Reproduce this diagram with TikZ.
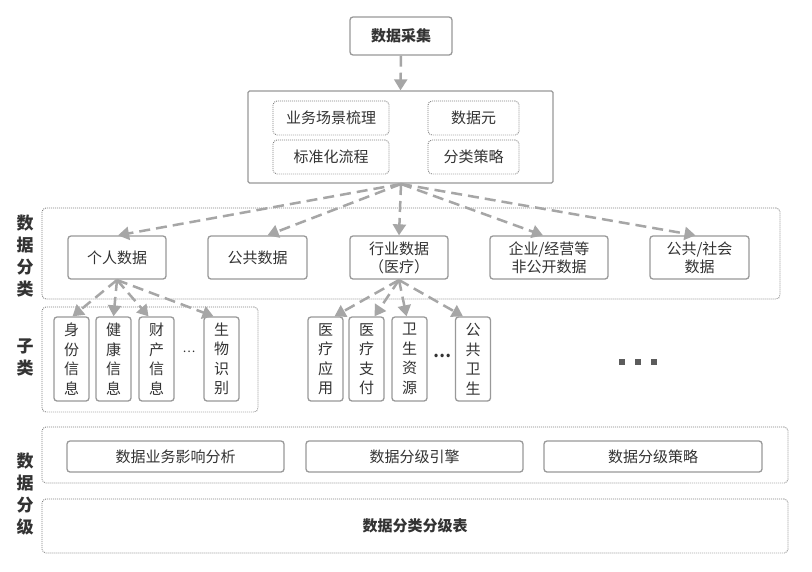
\documentclass[tikz,border=0pt]{standalone}
\usepackage{fontspec}
\setmainfont{Noto Sans CJK SC}
\usetikzlibrary{arrows.meta}
\definecolor{txt}{HTML}{333333}
\definecolor{bord}{HTML}{999999}
\definecolor{dotc}{HTML}{808080}
\definecolor{arr}{HTML}{A6A6A6}
\tikzset{
  box/.style={draw=bord, line width=1.3pt, rounded corners=3pt, fill=white, text=txt, font=\fontsize{15}{18}\selectfont, align=center, inner sep=0pt},
  dotbox/.style={draw=dotc, dash pattern=on 0.9pt off 1.1pt, line width=0.9pt, rounded corners=4pt, text=txt, inner sep=0pt},
  vbox/.style={box, minimum width=35pt, minimum height=84pt, font=\fontsize{15}{19.5}\selectfont},
  conn/.style={draw=arr, line width=2.5pt, dash pattern=on 11pt off 6pt, -{Triangle[length=11pt,width=13pt]}},
  lab/.style={text=txt, font=\fontsize{17}{22}\selectfont\bfseries, align=center, inner sep=0pt},
}
\begin{document}
\begin{tikzpicture}[x=1pt,y=-1pt]
\useasboundingbox (0,0) rectangle (812,571);
\fill[white] (0,0) rectangle (812,571);
% regions
\node[dotbox, minimum width=738pt, minimum height=91pt] (catreg) at (411,253.5) {};
\node[dotbox, minimum width=216pt, minimum height=105pt] (subreg) at (150,359.5) {};
\node[dotbox, minimum width=746pt, minimum height=56pt] (gradereg) at (415,455) {};
\node[dotbox, minimum width=746pt, minimum height=54pt, font=\fontsize{15}{18}\selectfont\bfseries] (table) at (415,526) {数据分类分级表};
% left labels
\node[lab] (l1) at (25,256) {数\\据\\分\\类};
\node[lab] (l2) at (25,357.5) {子\\类};
\node[lab] (l3) at (25,494) {数\\据\\分\\级};
% top
\node[box, minimum width=102pt, minimum height=38pt, font=\fontsize{15}{18}\selectfont\bfseries] (collect) at (401,36) {数据采集};
\node[box, minimum width=305pt, minimum height=92pt, rounded corners=1.5pt] (big) at (400.5,137) {};
\node[dotbox, minimum width=116pt, minimum height=34pt, font=\fontsize{15}{18}\selectfont] (b1) at (331,118) {业务场景梳理};
\node[dotbox, minimum width=116pt, minimum height=34pt, font=\fontsize{15}{18}\selectfont] (b2) at (331,157) {标准化流程};
\node[dotbox, minimum width=91pt, minimum height=34pt, font=\fontsize{15}{18}\selectfont] (b3) at (473.5,118) {数据元};
\node[dotbox, minimum width=91pt, minimum height=34pt, font=\fontsize{15}{18}\selectfont] (b4) at (473.5,157) {分类策略};
% categories
\node[box, minimum width=98pt, minimum height=43pt] (p) at (117,257.5) {个人数据};
\node[box, minimum width=99pt, minimum height=43pt] (g) at (257.5,257.5) {公共数据};
\node[box, minimum width=98pt, minimum height=43pt] (h) at (399,257.5) {行业数据\\（医疗）};
\node[box, minimum width=118pt, minimum height=43pt] (e) at (549,257.5) {企业/经营等\\非公开数据};
\node[box, minimum width=99pt, minimum height=43pt] (s) at (699.5,257.5) {公共/社会\\数据};
% sub categories
\node[vbox] (p1) at (71.5,359) {身\\份\\信\\息};
\node[vbox] (p2) at (113.5,359) {健\\康\\信\\息};
\node[vbox] (p3) at (156.5,359) {财\\产\\信\\息};
\node[text=txt, font=\fontsize{12}{14}\selectfont, inner sep=0pt] (pd) at (189,352) {…};
\node[vbox] (p4) at (221.5,359) {生\\物\\识\\别};
\node[vbox] (h1) at (325.5,359) {医\\疗\\应\\用};
\node[vbox] (h2) at (366.5,359) {医\\疗\\支\\付};
\node[vbox] (h3) at (409.5,359) {卫\\生\\资\\源};
\node[text=txt, font=\fontsize{16}{18}\selectfont\bfseries, inner sep=0pt] (hd) at (442,356) {…};
\node[vbox] (h4) at (473,359) {公\\共\\卫\\生};
\node[inner sep=0pt, minimum size=0pt] (sq) at (638,362) {};
\foreach \dx in {-16,0,16} \fill[txt!80] (638+\dx-2.7,362-2.7) rectangle (638+\dx+2.7,362+2.7);
% grading
\node[box, minimum width=217pt, minimum height=31pt] (g1) at (175.5,456.5) {数据业务影响分析};
\node[box, minimum width=217pt, minimum height=31pt] (g2) at (414.5,456.5) {数据分级引擎};
\node[box, minimum width=218pt, minimum height=31pt] (g3) at (653,456.5) {数据分级策略};
% connectors
\coordinate (bs) at (401,184);
\draw[conn] (collect.south) -- (big.north);
\draw[conn] (bs) -- ([xshift=1pt]p.north);
\draw[conn] (bs) -- ([xshift=10pt]g.north);
\draw[conn] (bs) -- (h.north);
\draw[conn] (bs) -- ([xshift=-6pt]e.north);
\draw[conn] (bs) -- ([xshift=-4pt]s.north);
\coordinate (ps) at (117,280);
\draw[conn] (ps) -- ([xshift=1pt]p1.north);
\draw[conn] (ps) -- (p2.north);
\draw[conn] (ps) -- ([xshift=-8pt]p3.north);
\draw[conn] (ps) -- ([xshift=-8pt]p4.north);
\coordinate (hs) at (399,280);
\draw[conn] (hs) -- ([xshift=9pt]h1.north);
\draw[conn] (hs) -- ([xshift=8pt]h2.north);
\draw[conn] (hs) -- ([xshift=-3pt]h3.north);
\draw[conn] (hs) -- ([xshift=-10pt]h4.north);
\end{tikzpicture}
\end{document}
